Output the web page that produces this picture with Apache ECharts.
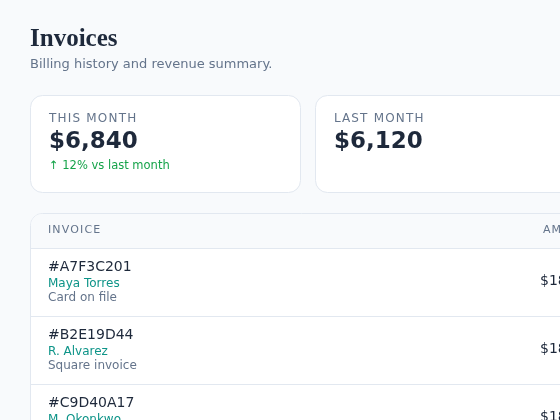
<!DOCTYPE html>
<html><head><meta charset="utf-8">
<script src="https://cdn.jsdelivr.net/npm/echarts@6/dist/echarts.min.js"></script>
<style>html,body{margin:0;padding:0;background:#f8fafc}#c{width:560px;height:420px}</style>
</head><body><div id="c"></div>
<script>
const cardLabels = ['THIS MONTH', 'LAST MONTH'];
const cardValues = ['$6,840', '$6,120'];
const cardNotes = ['↑ 12% vs last month', ''];
const columns = ['INVOICE', 'AMOUNT'];
const invoiceIds = ['#A7F3C201', '#B2E19D44', '#C9D40A17'];
const customers = ['Maya Torres', 'R. Alvarez', 'M. Okonkwo'];
const methods = ['Card on file', 'Square invoice', 'Bank transfer'];
const amounts = ['$180.00', '$180.00', '$180.00'];

const F = 'DejaVu Sans, sans-serif';
const sp = s => s.split('').join(String.fromCharCode(8202));
const g = [];
g.push({type:'rect', shape:{x:0,y:0,width:560,height:420}, style:{fill:'#f8fafc'}, silent:true});
g.push({type:'text', x:30, y:27, style:{text:'Invoices', font:'bold 25px "Liberation Serif", serif', fill:'#1e293b'}});
g.push({type:'text', x:30, y:58, style:{text:'Billing history and revenue summary.', font:'13px '+F, fill:'#64748b'}});
cardLabels.forEach((l,i)=>{
  const x = 30 + i*285;
  g.push({type:'rect', shape:{x:x+0.5,y:95.5,width:270,height:97,r:12}, style:{fill:'#fff',stroke:'#e2e8f0',lineWidth:1}});
  g.push({type:'text', x:x+19, y:113, style:{text:sp(l), font:'12px '+F, fill:'#64748b'}});
  g.push({type:'text', x:x+19, y:131, style:{text:cardValues[i], font:'bold 23px '+F, fill:'#1e293b'}});
  if (cardNotes[i]) g.push({type:'text', x:x+19, y:160, style:{text:cardNotes[i], font:'11.5px '+F, fill:'#16a34a'}});
});
g.push({type:'rect', shape:{x:30.5,y:213.5,width:600,height:260,r:12}, style:{fill:'#fff',stroke:'#e2e8f0',lineWidth:1}});
g.push({type:'rect', shape:{x:31,y:214,width:600,height:34,r:[11,11,0,0]}, style:{fill:'#f8fafc'}});
g.push({type:'line', shape:{x1:31,y1:248.5,x2:600,y2:248.5}, style:{stroke:'#e2e8f0',lineWidth:1}});
g.push({type:'text', x:48, y:225, style:{text:sp(columns[0]), font:'11px '+F, fill:'#64748b'}});
g.push({type:'text', x:543, y:225, style:{text:sp(columns[1]), font:'11px '+F, fill:'#64748b'}});
invoiceIds.forEach((id,i)=>{
  const y = 249 + i*68;
  g.push({type:'text', x:48, y:y+11, style:{text:id, font:'14px '+F, fill:'#1e293b'}});
  g.push({type:'text', x:48, y:y+29, style:{text:customers[i], font:'12px '+F, fill:'#0d9488'}});
  g.push({type:'text', x:48, y:y+43, style:{text:methods[i], font:'12px '+F, fill:'#64748b'}});
  g.push({type:'text', x:540, y:y+25, style:{text:amounts[i], font:'14px '+F, fill:'#1e293b'}});
  g.push({type:'line', shape:{x1:31,y1:y+67.5,x2:600,y2:y+67.5}, style:{stroke:'#e2e8f0',lineWidth:1}});
});
const chart = echarts.init(document.getElementById('c'), null, {renderer:'canvas'});
chart.setOption({animation:false, graphic:{elements:g}});
</script></body></html>
